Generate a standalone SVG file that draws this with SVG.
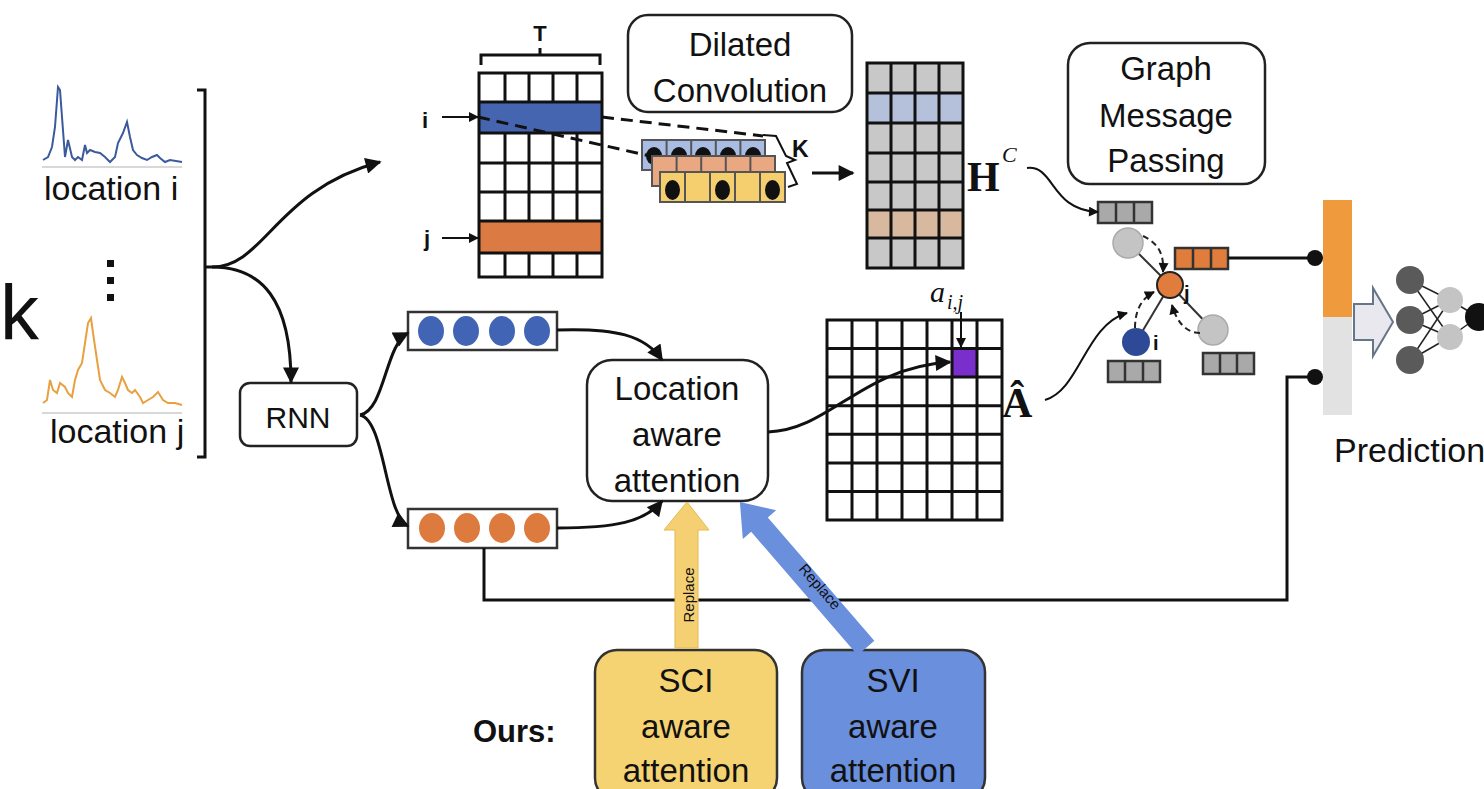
<svg xmlns="http://www.w3.org/2000/svg" width="1484" height="789" viewBox="0 0 1484 789">
<style>
.t{font-family:"Liberation Sans",Arial,sans-serif;fill:#111}
.b{font-weight:bold}
.sf{font-family:"Liberation Serif","Times New Roman",serif;fill:#111}
.box{fill:#fff;stroke:#222;stroke-width:2.5}
.ln{fill:none;stroke:#111;stroke-width:3}
.grid{fill:none;stroke:#111;stroke-width:3}
.vec{stroke:#333;stroke-width:2.5}
.dash{fill:none;stroke:#111;stroke-width:3;stroke-dasharray:12 7}
.gdash{fill:none;stroke:#222;stroke-width:2;stroke-dasharray:6 4}
</style>
<defs>
<marker id="ah" viewBox="0 0 10 10" refX="9" refY="5" markerWidth="18" markerHeight="16" markerUnits="userSpaceOnUse" orient="auto"><path d="M0,0 L10,5 L0,10 z" fill="#111"/></marker>
<marker id="ahs" viewBox="0 0 10 10" refX="9" refY="5" markerWidth="12" markerHeight="10" markerUnits="userSpaceOnUse" orient="auto"><path d="M0,0 L10,5 L0,10 z" fill="#111"/></marker>
<marker id="dot" viewBox="0 0 10 10" refX="5" refY="5" markerWidth="16" markerHeight="16" markerUnits="userSpaceOnUse"><circle cx="5" cy="5" r="5" fill="#111"/></marker>
</defs>

<!-- inputs -->
<g id="inputs">
<text x="0" y="340" class="t" font-size="78">k</text>
<polyline fill="none" stroke="#3b5a9c" stroke-width="2" points="43,160 48,157 52,147 55,127 58,87 60,90 62,117 65,157 68,140 72,157 75,160 78,157 82,160 85,145 87,153 90,150 95,152 100,153 105,157 110,162 115,157 118,143 123,133 127,122 130,137 133,150 137,155 142,158 147,160 152,157 157,155 160,158 165,162 170,160 182,162"/>
<line x1="42" y1="167" x2="182" y2="167" stroke="#d8d8d8" stroke-width="2"/>
<text x="44" y="200" class="t" font-size="34">location i</text>
<rect x="107" y="260" width="7" height="7" fill="#111"/>
<rect x="107" y="277" width="7" height="7" fill="#111"/>
<rect x="107" y="294" width="7" height="7" fill="#111"/>
<polyline fill="none" stroke="#e8a040" stroke-width="2" points="43,403 47,400 50,380 53,390 57,393 60,383 65,387 68,393 72,397 75,380 78,370 82,363 85,343 88,323 91,318 93,333 97,360 100,380 105,390 110,393 115,397 118,390 122,377 125,383 128,390 132,393 135,390 140,397 143,403 148,400 153,397 158,392 163,400 168,403 175,403 182,405"/>
<line x1="42" y1="413" x2="182" y2="413" stroke="#d8d8d8" stroke-width="2"/>
<text x="50" y="443" class="t" font-size="34">location j</text>
<path d="M197,90 L205,90 L205,457 L197,457 M205,267 L212,267" class="ln"/>
</g>

<!-- input matrix -->
<g id="input-matrix">
<path d="M481,65 L481,55 L600,55 L600,65 M540,55 L540,48" class="ln" stroke-width="2.5"/>
<text x="540" y="41" class="t b" font-size="22" text-anchor="middle">T</text>
<rect x="479" y="102" width="123" height="31" fill="#4565b0"/>
<rect x="479" y="221" width="123" height="32" fill="#db7a42"/>
<rect x="479" y="73" width="123" height="204" class="grid"/>
<path d="M479,102 H602 M479,133 H602 M479,163 H602 M479,192 H602 M479,221 H602 M479,253 H602
M505,73 V102 M529,73 V102 M553,73 V102 M577,73 V102
M505,133 V221 M529,133 V221 M553,133 V221 M577,133 V221
M505,253 V277 M529,253 V277 M553,253 V277 M577,253 V277" class="grid"/>
<text x="425" y="128" class="t b" font-size="22" text-anchor="middle">i</text>
<text x="427" y="246" class="t b" font-size="22" text-anchor="middle">j</text>
<line x1="442" y1="117" x2="478" y2="117" stroke="#111" stroke-width="2" marker-end="url(#ahs)"/>
<line x1="442" y1="238" x2="478" y2="238" stroke="#111" stroke-width="2" marker-end="url(#ahs)"/>
</g>

<!-- dilated convolution -->
<g id="dilated-conv">
<rect x="628" y="15" width="224" height="97" rx="20" class="box"/>
<text x="740" y="56" class="t" font-size="33" text-anchor="middle">Dilated</text>
<text x="740" y="102" class="t" font-size="33" text-anchor="middle">Convolution</text>
<line x1="602" y1="117" x2="763" y2="136" class="dash"/>
<rect x="642" y="140" width="123" height="30" fill="#a9bde4" stroke="#555" stroke-width="2"/>
<path d="M666.6,140 V170 M691.2,140 V170 M715.8,140 V170 M740.4,140 V170" stroke="#555" stroke-width="2"/>
<g fill="#111"><ellipse cx="654" cy="156" rx="8" ry="9"/><ellipse cx="679" cy="156" rx="8" ry="9"/><ellipse cx="703" cy="156" rx="8" ry="9"/><ellipse cx="728" cy="156" rx="8" ry="9"/><ellipse cx="753" cy="156" rx="8" ry="9"/></g>
<rect x="652" y="156" width="123" height="30" fill="#e9a882" stroke="#555" stroke-width="2"/>
<path d="M676.6,156 V186 M701.2,156 V186 M725.8,156 V186 M750.4,156 V186" stroke="#555" stroke-width="2"/>
<rect x="660" y="172" width="125" height="30" fill="#f5cf6e" stroke="#555" stroke-width="2"/>
<path d="M685,172 V202 M710,172 V202 M735,172 V202 M760,172 V202" stroke="#555" stroke-width="2"/>
<g fill="#111"><ellipse cx="672.5" cy="190" rx="7.5" ry="10"/><ellipse cx="722.5" cy="190" rx="7.5" ry="10"/><ellipse cx="772.5" cy="190" rx="7.5" ry="10"/></g>
<line x1="478" y1="117" x2="650" y2="156" class="dash"/>
<path d="M763,135 L776,136 L786,156 L795,160 L787,163 L797,184 L788,187" fill="none" stroke="#111" stroke-width="2"/>
<text x="792" y="157" class="t b" font-size="23">K</text>
</g>

<!-- H^C -->
<g id="hc-matrix">
<rect x="867" y="63" width="96" height="205" fill="#c8c8c8"/>
<rect x="867" y="93" width="96" height="30" fill="#b5c0da"/>
<rect x="867" y="210" width="96" height="28" fill="#d9b8a0"/>
<rect x="867" y="63" width="96" height="205" class="grid"/>
<path d="M891,63 V268 M915,63 V268 M939,63 V268 M867,93 H963 M867,123 H963 M867,153 H963 M867,182 H963 M867,210 H963 M867,238 H963" class="grid"/>
<text x="967" y="191" class="sf b" font-size="42">H</text>
<text x="1002" y="162" class="sf" font-size="22" font-style="italic">C</text>
</g>

<!-- graph message passing -->
<g id="graph-mp">
<rect x="1068" y="43" width="197" height="141" rx="22" class="box"/>
<text x="1166" y="80" class="t" font-size="33" text-anchor="middle">Graph</text>
<text x="1166" y="127" class="t" font-size="33" text-anchor="middle">Message</text>
<text x="1166" y="172" class="t" font-size="33" text-anchor="middle">Passing</text>
<rect x="1098" y="202" width="54" height="21" fill="#a9a9a9" class="vec"/>
<path d="M1116,202 V223 M1134,202 V223" class="vec"/>
<line x1="1128" y1="243" x2="1170" y2="285" stroke="#333" stroke-width="2"/>
<line x1="1136" y1="342" x2="1170" y2="285" stroke="#333" stroke-width="2"/>
<line x1="1213" y1="330" x2="1170" y2="285" stroke="#333" stroke-width="2"/>
<circle cx="1128" cy="243" r="15" fill="#c4c4c4" stroke="#aaa" stroke-width="1.5"/>
<circle cx="1213" cy="330" r="15" fill="#c4c4c4" stroke="#aaa" stroke-width="1.5"/>
<circle cx="1136" cy="342" r="14" fill="#2e4a96"/>
<circle cx="1170" cy="285" r="13" fill="#e07d3c" stroke="#222" stroke-width="2"/>
<path d="M1143,236 C1160,244 1164,256 1163,272" class="gdash" marker-end="url(#ahs)"/>
<path d="M1135,328 C1135,310 1142,298 1154,292" class="gdash" marker-end="url(#ahs)"/>
<path d="M1200,333 C1185,333 1176,320 1172,305" class="gdash" marker-end="url(#ahs)"/>
<text x="1184" y="300" class="t b" font-size="20" fill="#223">j</text>
<text x="1153" y="350" class="t b" font-size="20">i</text>
<rect x="1175" y="248" width="53" height="21" fill="#e07d3c" class="vec"/>
<path d="M1193,248 V269 M1211,248 V269" class="vec"/>
<rect x="1108" y="361" width="52" height="21" fill="#a9a9a9" class="vec"/>
<path d="M1125,361 V382 M1143,361 V382" class="vec"/>
<rect x="1203" y="353" width="51" height="21" fill="#a9a9a9" class="vec"/>
<path d="M1220,353 V374 M1237,353 V374" class="vec"/>
</g>

<!-- prediction -->
<g id="prediction">
<rect x="1323" y="200" width="29" height="117" fill="#ef9a3c"/>
<rect x="1323" y="317" width="29" height="98" fill="#e2e2e2"/>
<polygon points="1354,304 1373,304 1373,288 1393,322 1373,356 1373,340 1354,340" fill="#e8e8ee" stroke="#667588" stroke-width="2"/>
<g stroke="#222" stroke-width="1.5">
<line x1="1410" y1="280" x2="1450" y2="300"/><line x1="1410" y1="280" x2="1450" y2="337"/>
<line x1="1410" y1="320" x2="1450" y2="300"/><line x1="1410" y1="320" x2="1450" y2="337"/>
<line x1="1410" y1="360" x2="1450" y2="300"/><line x1="1410" y1="360" x2="1450" y2="337"/>
<line x1="1450" y1="300" x2="1478" y2="317"/><line x1="1450" y1="337" x2="1478" y2="317"/>
</g>
<circle cx="1410" cy="280" r="14" fill="#5a5a5a"/>
<circle cx="1410" cy="320" r="14" fill="#5a5a5a"/>
<circle cx="1410" cy="360" r="14" fill="#5a5a5a"/>
<circle cx="1450" cy="300" r="13" fill="#c4c4c4"/>
<circle cx="1450" cy="337" r="13" fill="#c4c4c4"/>
<circle cx="1479" cy="317" r="14" fill="#111"/>
<text x="1334" y="462" class="t" font-size="34">Prediction</text>
</g>

<!-- RNN -->
<g id="rnn">
<rect x="240" y="383" width="117" height="63" rx="10" class="box"/>
<text x="298" y="428" class="t" font-size="30" text-anchor="middle">RNN</text>
</g>

<!-- vectors -->
<g id="blue-vector">
<rect x="408" y="312" width="149" height="38" fill="#fff" stroke="#333" stroke-width="2.5"/>
<g fill="#4264b5"><ellipse cx="431" cy="331" rx="13" ry="15"/><ellipse cx="466" cy="331" rx="13" ry="15"/><ellipse cx="502" cy="331" rx="13" ry="15"/><ellipse cx="537" cy="331" rx="13" ry="15"/></g>
</g>
<g id="orange-vector">
<rect x="408" y="509" width="149" height="39" fill="#fff" stroke="#333" stroke-width="2.5"/>
<g fill="#dd7a3e"><ellipse cx="432" cy="528" rx="13" ry="15"/><ellipse cx="467" cy="528" rx="13" ry="15"/><ellipse cx="502" cy="528" rx="13" ry="15"/><ellipse cx="537" cy="528" rx="13" ry="15"/></g>
</g>

<!-- location aware attention -->
<g id="laa">
<rect x="587" y="360" width="181" height="141" rx="25" class="box"/>
<text x="677" y="400" class="t" font-size="33" text-anchor="middle">Location</text>
<text x="677" y="446" class="t" font-size="33" text-anchor="middle">aware</text>
<text x="677" y="492" class="t" font-size="33" text-anchor="middle">attention</text>
</g>

<!-- attention matrix -->
<g id="attn-matrix">
<rect x="952" y="348.6" width="25" height="28.6" fill="#7a2fcc"/>
<rect x="827" y="320" width="175" height="200" class="grid"/>
<path d="M852,320 V520 M877,320 V520 M902,320 V520 M927,320 V520 M952,320 V520 M977,320 V520
M827,348.6 H1002 M827,377.1 H1002 M827,405.7 H1002 M827,434.3 H1002 M827,462.9 H1002 M827,491.4 H1002" class="grid"/>
<text x="930" y="302" class="sf" font-size="30" font-style="italic">a</text>
<text x="947" y="309" class="sf" font-size="20" font-style="italic">i,j</text>
<line x1="961" y1="312" x2="961" y2="347" stroke="#111" stroke-width="2" marker-end="url(#ahs)"/>
<text x="1002" y="417" class="sf b" font-size="42">Â</text>
</g>

<!-- ours -->
<g id="ours-label"><text x="473" y="742" class="t b" font-size="31">Ours:</text></g>
<g id="sci">
<rect x="595" y="650" width="182" height="150" rx="22" fill="#f6d372" stroke="#333" stroke-width="2.5"/>
<text x="686" y="692" class="t" font-size="33" text-anchor="middle">SCI</text>
<text x="686" y="738" class="t" font-size="33" text-anchor="middle">aware</text>
<text x="686" y="782" class="t" font-size="33" text-anchor="middle">attention</text>
</g>
<g id="svi">
<rect x="802" y="650" width="183" height="150" rx="22" fill="#6a8fdd" stroke="#333" stroke-width="2.5"/>
<text x="893" y="692" class="t" font-size="33" text-anchor="middle">SVI</text>
<text x="893" y="738" class="t" font-size="33" text-anchor="middle">aware</text>
<text x="893" y="782" class="t" font-size="33" text-anchor="middle">attention</text>
</g>

<!-- connectors -->
<g id="connectors">
<path d="M212,267 C265,267 275,190 380,162" class="ln" marker-end="url(#ah)"/>
<path d="M212,267 C262,267 291,300 291,382" class="ln" marker-end="url(#ah)"/>
<path d="M360,415 C385,410 385,345 408,333" class="ln" marker-end="url(#ah)"/>
<path d="M360,415 C385,420 385,515 408,526" class="ln" marker-end="url(#ah)"/>
<path d="M557,330 C615,328 645,335 662,360" class="ln" marker-end="url(#ah)"/>
<path d="M557,528 C615,528 645,522 662,501" class="ln" marker-end="url(#ah)"/>
<path d="M768,432 C830,430 860,368 950,362" class="ln" marker-end="url(#ah)"/>
<line x1="812" y1="173" x2="853" y2="173" class="ln" marker-end="url(#ah)"/>
<path d="M1027,168 C1055,165 1050,210 1098,212" fill="none" stroke="#111" stroke-width="2" marker-end="url(#ahs)"/>
<path d="M1045,400 C1080,390 1085,325 1127,313" fill="none" stroke="#111" stroke-width="2" marker-end="url(#ahs)"/>
<path d="M1228,258 L1315,258" class="ln" marker-end="url(#dot)"/>
<path d="M484,548 L484,600 L1287,600 L1287,377 L1315,377" class="ln" marker-end="url(#dot)"/>
<polygon points="675,648 675,530 664,530 687,502 709,530 698,530 698,648" fill="#f5d072" stroke="#e5b84c" stroke-width="1"/>
<text transform="translate(694,595) rotate(-90)" class="t" font-size="15" text-anchor="middle">Replace</text>
<g transform="translate(866,648) rotate(-130.8)">
<polygon points="0,-11 163,-11 163,-22 193,0 163,22 163,11 0,11" fill="#6a8fdd"/>
</g>
<text transform="translate(816,590) rotate(49)" class="t" font-size="15" text-anchor="middle">Replace</text>
</g>
</svg>
